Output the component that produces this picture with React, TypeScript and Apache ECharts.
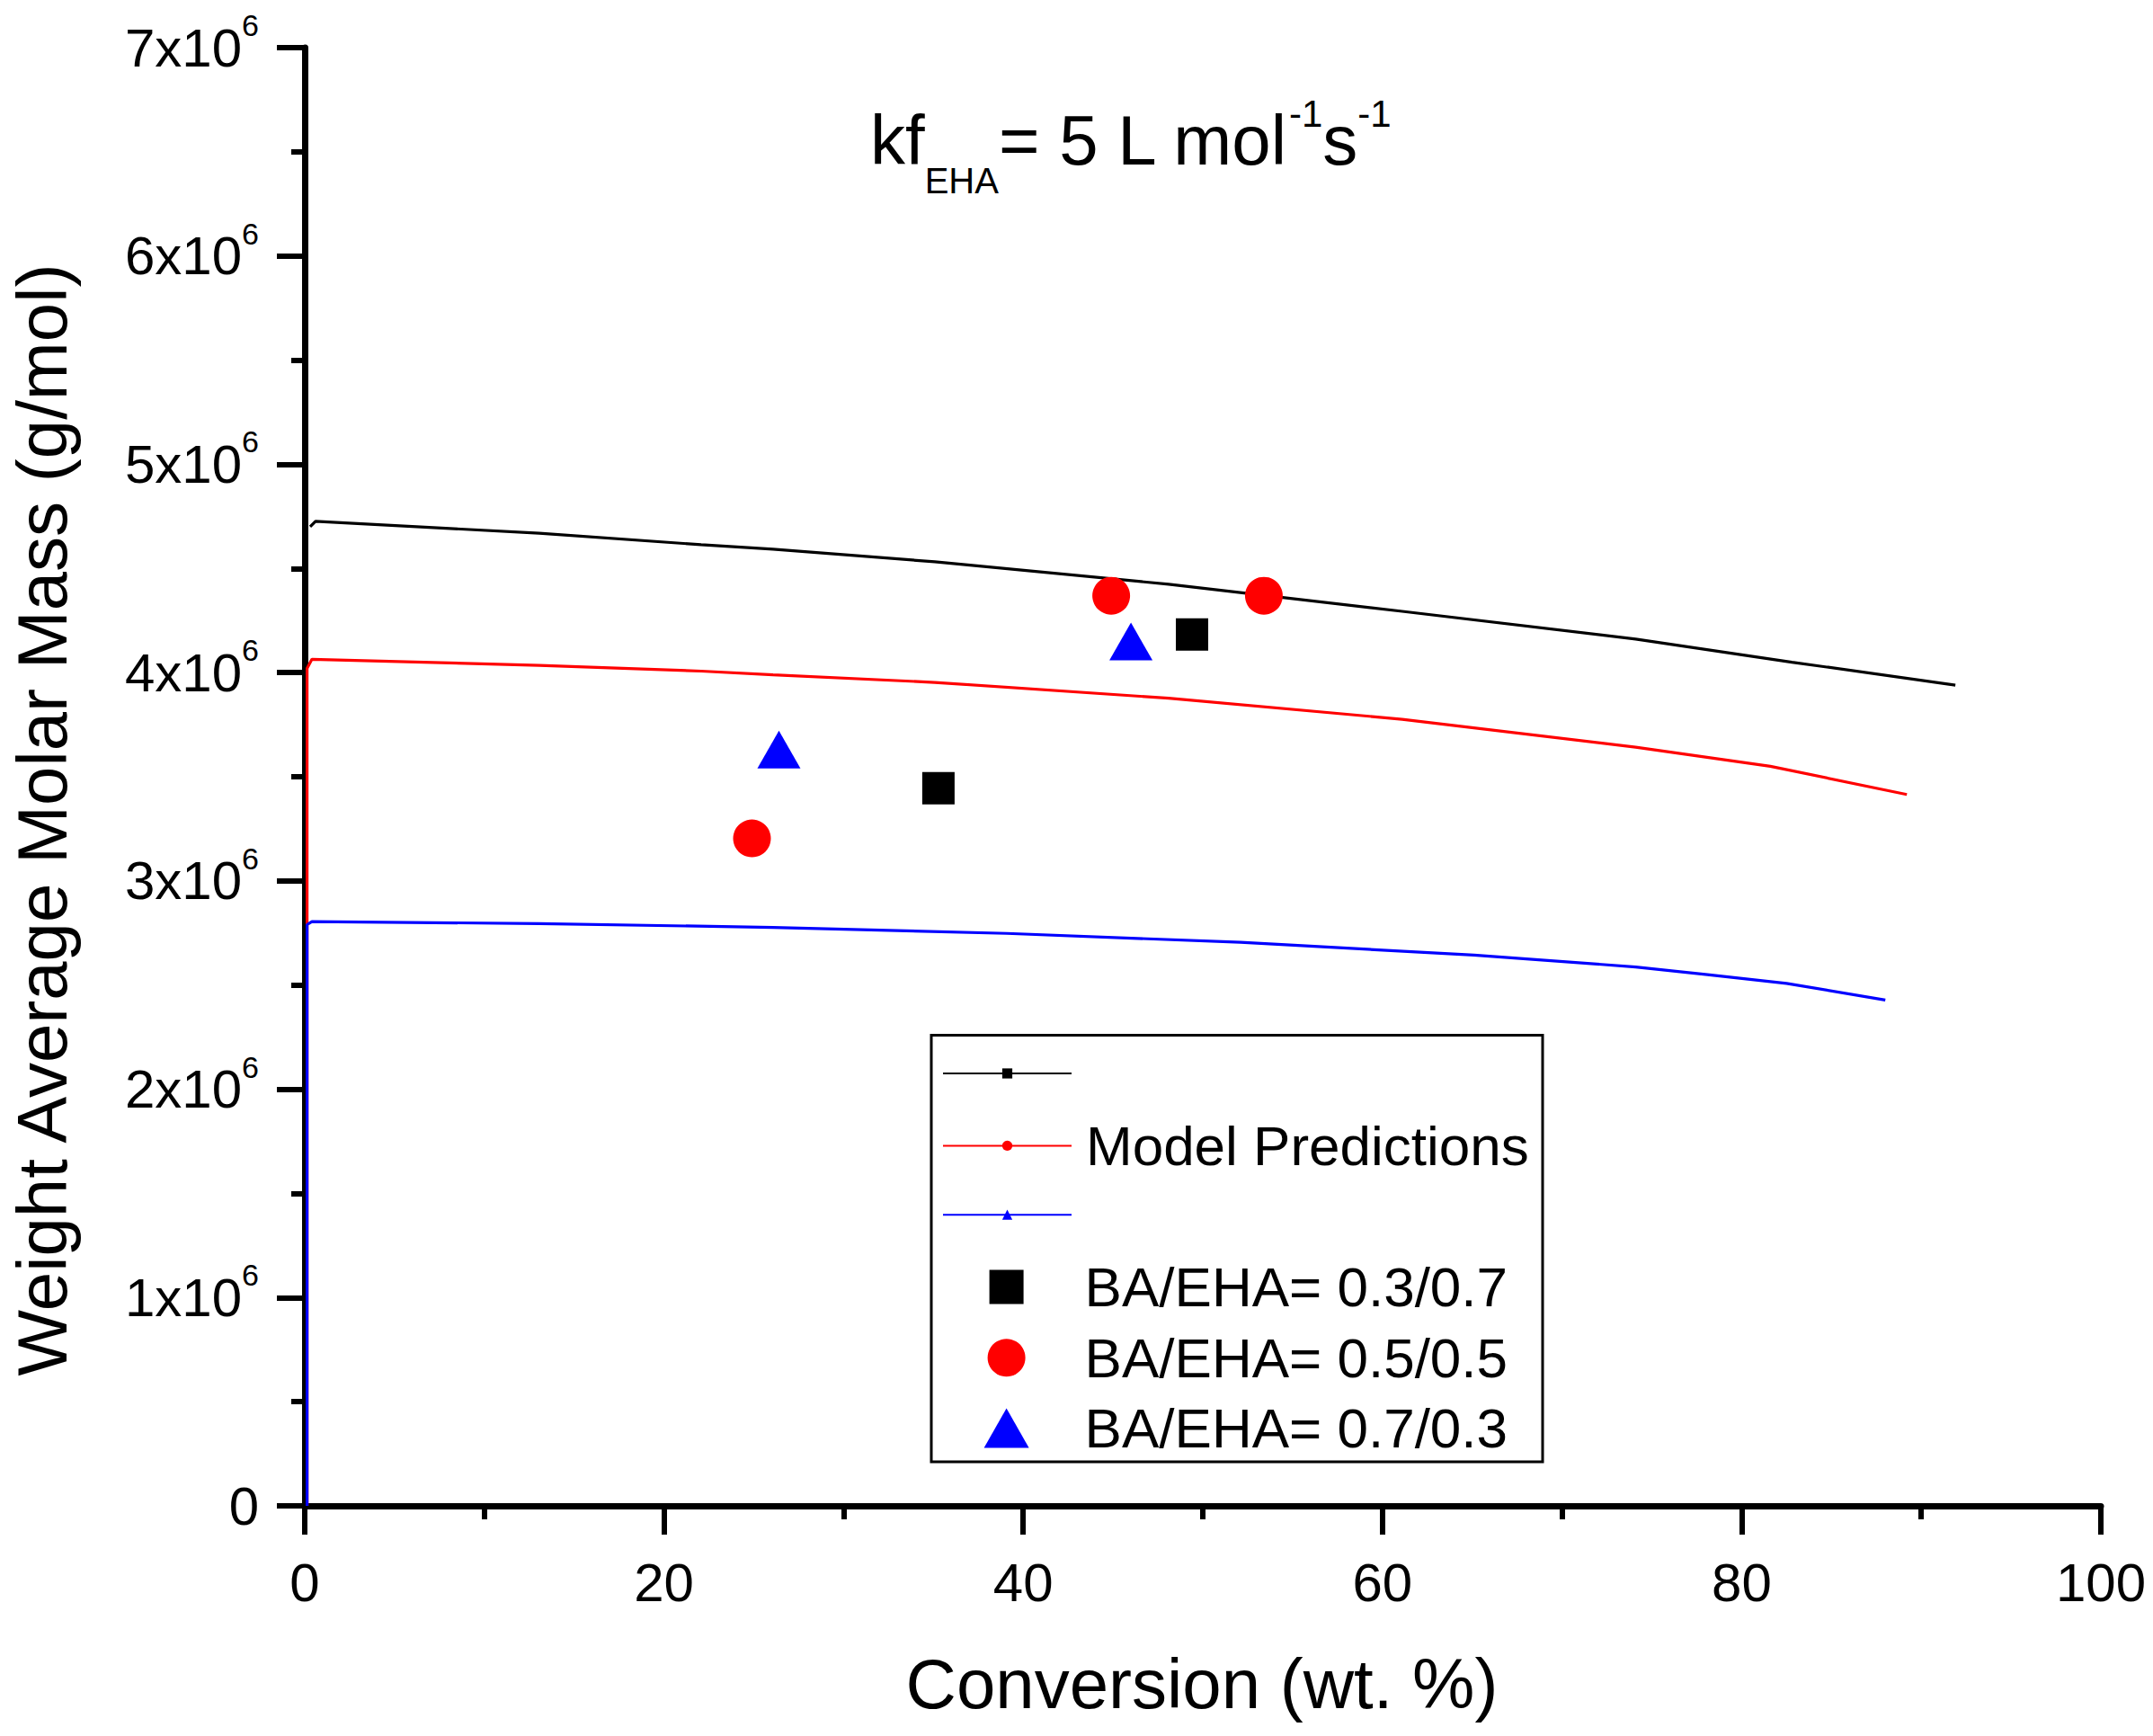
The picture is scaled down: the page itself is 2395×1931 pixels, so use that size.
import React, { useEffect, useRef } from 'react';
import * as echarts from 'echarts';

const FONT = '"Liberation Sans", Arial, Helvetica, sans-serif';

// Axis ranges / ticks
const xMin = 0;
const xMax = 100;
const xInterval = 20;
const yMin = 0;
const yMax = 7e6;
const yInterval = 1e6;

// Model prediction curves [conversion %, Mw g/mol]
const modelBlack: [number, number][] = [
  [0.3, 4.70e6], [0.6, 4.726e6], [13.06, 4.669e6], [22.07, 4.614e6], [26.07, 4.592e6],
  [35.08, 4.532e6], [48.1, 4.424e6], [61.1, 4.294e6], [74.1, 4.161e6], [82.8, 4.05e6], [91.9, 3.94e6],
];
const modelRed: [number, number][] = [
  [0.13, 0], [0.13, 4.02e6], [0.4, 4.064e6], [13.06, 4.035e6], [22.07, 4.007e6], [26.07, 3.989e6],
  [35.08, 3.953e6], [48.1, 3.877e6], [61.1, 3.776e6], [74.1, 3.642e6], [81.6, 3.55e6], [89.2, 3.415e6],
];
const modelBlue: [number, number][] = [
  [0.13, 0], [0.13, 2.79e6], [0.4, 2.805e6], [13.06, 2.795e6], [26.07, 2.777e6], [39.09, 2.748e6],
  [52.1, 2.705e6], [65.1, 2.644e6], [74.1, 2.587e6], [78.1, 2.55e6], [82.5, 2.508e6], [88.0, 2.428e6],
];

// Experimental points
const exp37: [number, number][] = [[35.28, 3.445e6], [49.4, 4.183e6]];
const exp55: [number, number][] = [[24.9, 3.204e6], [44.9, 4.369e6], [53.4, 4.369e6]];
const exp73: [number, number][] = [[26.4, 3.631e6], [46.0, 4.149e6]];

const nameBlackModel = 'Model BA/EHA= 0.3/0.7';
const nameRedModel = 'Model Predictions';
const nameBlueModel = 'Model BA/EHA= 0.7/0.3';
const name37 = 'BA/EHA= 0.3/0.7';
const name55 = 'BA/EHA= 0.5/0.5';
const name73 = 'BA/EHA= 0.7/0.3';

const BLACK = '#000000';
const RED = '#ff0000';
const BLUE = '#0000ff';

function buildOption(): any {
  const legendText = { fontSize: 62, fontFamily: FONT, color: '#000', lineHeight: 62 };
  const base = { orient: 'vertical', padding: 0, itemGap: 0, selectedMode: false };
  return {
    animation: false,
    backgroundColor: '#ffffff',
    grid: { left: 339, right: 58, top: 53, bottom: 256, containLabel: false },
    xAxis: {
      type: 'value',
      min: xMin,
      max: xMax,
      interval: xInterval,
      axisLine: { show: true, onZero: false, lineStyle: { color: '#000', width: 7 } },
      axisTick: { show: true, length: 32, lineStyle: { color: '#000', width: 6 } },
      minorTick: { show: true, splitNumber: 2, length: 15, lineStyle: { color: '#000', width: 6 } },
      splitLine: { show: false },
      axisLabel: { fontSize: 60, fontFamily: FONT, color: '#000', margin: 55, lineHeight: 60 },
    },
    yAxis: {
      type: 'value',
      min: yMin,
      max: yMax,
      interval: yInterval,
      axisLine: { show: true, onZero: false, lineStyle: { color: '#000', width: 7 } },
      axisTick: { show: true, length: 31, lineStyle: { color: '#000', width: 6 } },
      minorTick: { show: true, splitNumber: 2, length: 15, lineStyle: { color: '#000', width: 6 } },
      splitLine: { show: false },
      axisLabel: {
        fontSize: 60,
        fontFamily: FONT,
        color: '#000',
        margin: 51,
        formatter: (v: number) => (v === 0 ? '0' : `{a|${Math.round(v / 1e6)}x10}{s|6}`),
        rich: {
          a: { fontSize: 60, fontFamily: FONT, color: '#000' },
          s: { fontSize: 34, fontFamily: FONT, color: '#000', padding: [0, 0, 50, 0] },
        },
      },
    },
    legend: [
      {
        ...base, data: [nameBlackModel], left: 1048, top: 1188.4, itemWidth: 143, itemHeight: 14,
        formatter: () => '', textStyle: { ...legendText, lineHeight: 14 },
      },
      {
        ...base, data: [nameRedModel], left: 1048, top: 1243.4, itemWidth: 143, itemHeight: 14,
        textStyle: { ...legendText, padding: [0, 0, 0, 11] },
      },
      {
        ...base, data: [nameBlueModel], left: 1048, top: 1345.6, itemWidth: 143, itemHeight: 14,
        formatter: () => '', textStyle: { ...legendText, lineHeight: 14 },
      },
      {
        ...base, data: [name37], left: 1100.6, top: 1400.6, itemWidth: 38, itemHeight: 38,
        textStyle: { ...legendText, padding: [0, 0, 0, 63] },
      },
      {
        ...base, data: [name55], left: 1098.6, top: 1479.2, itemWidth: 42, itemHeight: 42,
        textStyle: { ...legendText, padding: [0, 0, 0, 61] },
      },
      {
        ...base, data: [name73], left: 1094.6, top: 1557.4, itemWidth: 50, itemHeight: 44,
        textStyle: { ...legendText, padding: [0, 0, 0, 57] },
      },
    ],
    graphic: [
      {
        type: 'rect',
        shape: { x: 1036, y: 1151.6, width: 680, height: 474.4 },
        style: { fill: 'none', stroke: '#000', lineWidth: 3 },
        z: 10,
      },
      {
        type: 'text',
        x: 47,
        y: 912,
        rotation: Math.PI / 2,
        style: {
          text: 'Weight Average Molar Mass (g/mol)',
          fontSize: 78,
          fontFamily: FONT,
          fill: '#000',
          align: 'center',
          verticalAlign: 'middle',
          textAlign: 'center',
          textVerticalAlign: 'middle',
        },
      },
      {
        type: 'text',
        x: 1337,
        y: 1873,
        style: {
          text: 'Conversion (wt. %)',
          fontSize: 78,
          fontFamily: FONT,
          fill: '#000',
          align: 'center',
          verticalAlign: 'middle',
          textAlign: 'center',
          textVerticalAlign: 'middle',
        },
      },
      {
        type: 'text',
        x: 968,
        y: 156,
        style: {
          text: '{m|kf}{sub|EHA}{m|= 5 L mol}{sup|-1}{m|s}{sup|-1}',
          fontSize: 78,
          fontFamily: FONT,
          fill: '#000',
          align: 'left',
          verticalAlign: 'middle',
          textAlign: 'left',
          textVerticalAlign: 'middle',
          rich: {
            m: { fontSize: 78, fontFamily: FONT, fill: '#000', color: '#000' },
            sub: { fontSize: 40, fontFamily: FONT, fill: '#000', color: '#000', padding: [90, 0, 0, 0] },
            sup: { fontSize: 42, fontFamily: FONT, fill: '#000', color: '#000', padding: [0, 0, 60, 0] },
          },
        },
      },
    ],
    series: [
      {
        name: nameBlackModel, type: 'line', data: modelBlack, symbol: 'rect', showSymbol: false,
        lineStyle: { color: BLACK, width: 3.2 }, itemStyle: { color: BLACK }, z: 2,
      },
      {
        name: nameRedModel, type: 'line', data: modelRed, symbol: 'circle', showSymbol: false,
        lineStyle: { color: RED, width: 3.2 }, itemStyle: { color: RED }, z: 2,
      },
      {
        name: nameBlueModel, type: 'line', data: modelBlue, symbol: 'triangle', showSymbol: false,
        lineStyle: { color: BLUE, width: 3.2 }, itemStyle: { color: BLUE }, z: 2,
      },
      { name: name37, type: 'scatter', data: exp37, symbol: 'rect', symbolSize: 36, itemStyle: { color: BLACK, opacity: 1 }, z: 3 },
      { name: name55, type: 'scatter', data: exp55, symbol: 'circle', symbolSize: 42, itemStyle: { color: RED, opacity: 1 }, z: 3 },
      { name: name73, type: 'scatter', data: exp73, symbol: 'triangle', symbolSize: [48, 42], itemStyle: { color: BLUE, opacity: 1 }, z: 3 },
    ],
  };
}

export default function App() {
  const ref = useRef<HTMLDivElement>(null);
  useEffect(() => {
    if (!ref.current) return;
    const chart = echarts.init(ref.current, null, { renderer: 'svg', width: 2395, height: 1931 });
    chart.setOption(buildOption());
    return () => {
      chart.dispose();
    };
  }, []);
  return (
    <div
      ref={ref}
      style={{ position: 'absolute', left: 0, top: 0, width: 2395, height: 1931, background: '#fff' }}
    />
  );
}
